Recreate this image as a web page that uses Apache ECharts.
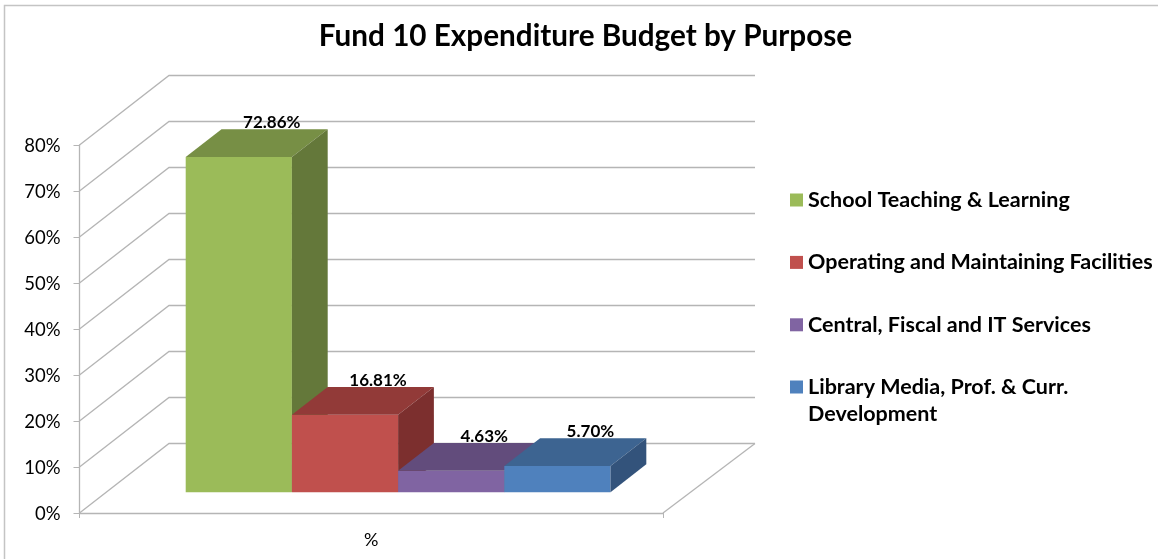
<!DOCTYPE html>
<html>
<head>
<meta charset="utf-8">
<style>html,body{margin:0;padding:0;background:#fff}#chart{width:1158px;height:559px}</style>
<script src="https://cdn.jsdelivr.net/npm/echarts@6/dist/echarts.min.js"></script>
</head>
<body>
<div id="chart"></div>
<script>
const categories = ['%'];
const seriesNames = [
  'School Teaching & Learning',
  'Operating and Maintaining Facilities',
  'Central, Fiscal and IT Services',
  'Library Media, Prof. & Curr. Development'
];
const seriesValues = [72.86, 16.81, 4.63, 5.70];
const frontColors = ['#9BBB59', '#C0504D', '#8064A2', '#4F81BD'];
const topColors = ['#778F45', '#923A38', '#624C7C', '#3D6491'];
const sideColors = ['#64783A', '#7C2F2E', '#523F68', '#33537B'];
const wallTicks = [0, 10, 20, 30, 40, 50, 60, 70, 80];

const FONT = 'Lato, "Open Sans", sans-serif';
const GRID_COLOR = '#B5B5B5';
// Oblique projection of the chart's depth axis, in pixels.
const DEPTH_X = 89.5, DEPTH_Y = -69.5;
const BACK_WALL_EXTRA = 2.5;
const BAR_NEAR = 0.3, BAR_FAR = 0.7, BAR_WIDTH_RATIO = 0.182;

function project(pt, depth) {
  return [pt[0] + DEPTH_X * depth, pt[1] + DEPTH_Y * depth];
}

// Side and back wall rules for one value tick.
function renderWall(params, api) {
  const v = api.value(0);
  const left = api.coord([0, v]);
  const band = api.size([1, 0])[0];
  const front = [left[0] - band / 2, left[1]];
  const back = project(front, 1);
  const end = [back[0] + band + BACK_WALL_EXTRA, back[1]];
  const style = { stroke: GRID_COLOR, lineWidth: 1.3, fill: null };
  const children = [{ type: 'polyline', shape: { points: [front, back, end] }, style }];
  if (v === 0) {
    const frontEnd = [front[0] + band, front[1]];
    children.push({ type: 'line', shape: { x1: frontEnd[0], y1: frontEnd[1], x2: end[0], y2: end[1] }, style });
  }
  return { type: 'group', children };
}

// One block of the clustered column: front, top and side faces plus its value label.
function blockRenderer(i) {
  return function (params, api) {
    const value = api.value(1);
    const centre = api.coord([0, 0])[0];
    const band = api.size([1, 0])[0];
    const w = band * BAR_WIDTH_RATIO;
    const x0 = centre + (i - seriesValues.length / 2) * w;
    const x1 = x0 + w;
    const yBase = api.coord([0, 0])[1];
    const yTop = api.coord([0, value])[1];
    const a = project([x0, yTop], BAR_NEAR), b = project([x1, yTop], BAR_NEAR);
    const c = project([x1, yBase], BAR_NEAR), d = project([x0, yBase], BAR_NEAR);
    const e = project([x0, yTop], BAR_FAR), f = project([x1, yTop], BAR_FAR);
    const g = project([x1, yBase], BAR_FAR);
    return {
      type: 'group',
      children: [
        { type: 'polygon', shape: { points: [a, b, c, d] }, style: { fill: frontColors[i] } },
        { type: 'polygon', shape: { points: [a, b, f, e] }, style: { fill: topColors[i] } },
        { type: 'polygon', shape: { points: [b, f, g, c] }, style: { fill: sideColors[i] } },
        {
          type: 'text',
          style: {
            text: value.toFixed(2) + '%',
            x: (a[0] + b[0]) / 2 + 33,
            y: a[1] - 34.5,
            align: 'center',
            verticalAlign: 'middle',
            fill: '#000',
            font: 'bold 17px ' + FONT
          }
        }
      ]
    };
  };
}

const legendText = { fontFamily: FONT, fontWeight: 'bold', fontSize: 21.5, color: '#000', lineHeight: 27 };

const chart = echarts.init(document.getElementById('chart'), null, { renderer: 'canvas' });
chart.setOption({
  animation: false,
  backgroundColor: '#fff',
  title: {
    text: 'Fund 10 Expenditure Budget by Purpose',
    left: 580.5,
    top: 16,
    textAlign: 'center',
    textStyle: { fontFamily: FONT, fontWeight: 'bold', fontSize: 29.7, color: '#000' }
  },
  grid: { left: 79.5, right: 495, top: 145, bottom: 46 },
  xAxis: {
    type: 'category',
    data: categories,
    axisLine: { lineStyle: { color: GRID_COLOR, width: 1.3 } },
    axisTick: { show: true, length: 5, lineStyle: { color: GRID_COLOR } },
    axisLabel: { color: '#000', fontFamily: FONT, fontSize: 18, margin: 18 }
  },
  yAxis: {
    type: 'value',
    min: 0,
    max: 80,
    interval: 10,
    splitLine: { show: false },
    axisLine: { show: true, lineStyle: { color: GRID_COLOR, width: 1.3 } },
    axisTick: { show: true, length: 6, lineStyle: { color: GRID_COLOR } },
    // A short top-aligned line box sets the labels slightly below their ticks.
    axisLabel: { color: '#000', fontFamily: FONT, fontSize: 18.5, margin: 19, verticalAlign: 'top', lineHeight: 3, formatter: '{value}%' }
  },
  legend: [
    {
      orient: 'vertical',
      left: 785,
      top: 181.5,
      icon: 'rect',
      itemWidth: 13,
      itemHeight: 13,
      itemGap: 35.4,
      selectedMode: false,
      data: seriesNames.slice(0, 3),
      textStyle: legendText
    },
    {
      orient: 'vertical',
      left: 785,
      top: 341.5,
      icon: 'rect',
      itemWidth: 13,
      itemHeight: 13,
      selectedMode: false,
      data: seriesNames.slice(3),
      // The blank first line keeps the swatch level with the first line of text.
      formatter: () => '\nLibrary Media, Prof. & Curr.\nDevelopment',
      textStyle: legendText
    }
  ],
  graphic: [
    {
      type: 'polyline',
      silent: true,
      shape: { points: [[4.5, 559], [4.5, 5.5], [1158, 5.5]] },
      style: { stroke: '#C4C4C4', lineWidth: 1.5, fill: null }
    }
  ],
  series: [
    {
      type: 'custom',
      silent: true,
      renderItem: renderWall,
      data: wallTicks.map(v => [v]),
      encode: { y: 0 },
      z: 1
    }
  ].concat(seriesNames.map((name, i) => ({
    type: 'custom',
    name,
    renderItem: blockRenderer(i),
    data: [[0, seriesValues[i]]],
    encode: { x: 0, y: 1 },
    itemStyle: { color: frontColors[i] },
    z: 2 + i
  })))
});
</script>
</body>
</html>
